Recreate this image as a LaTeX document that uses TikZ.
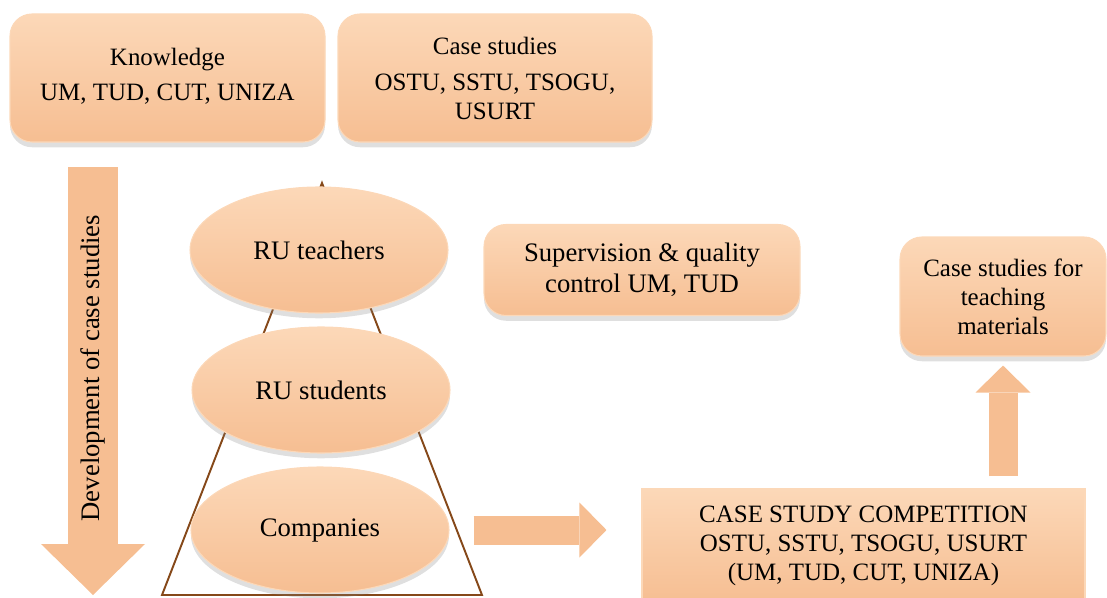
\documentclass[tikz,border=0pt]{standalone}
\usepackage{fontspec}
\setmainfont{Liberation Serif}
\usepackage{tikz}
\usepackage{xcolor}
\usetikzlibrary{shapes.geometric, shadows, arrows.meta}

\definecolor{peach}{RGB}{246,190,146}
\definecolor{peachlight}{RGB}{252,216,184}
\definecolor{pyramid}{RGB}{133,72,25}

\begin{document}
\begin{tikzpicture}[
        font=\fontsize{14.2}{16.5}\selectfont,
        bigtext/.style={font=\fontsize{15.2}{17.5}\selectfont},
        peachbox/.style={rounded corners=0.44cm, top color=peachlight, bottom color=peach,
            draw=peachlight, line width=0.6pt, align=center,
            drop shadow={opacity=0.25, shadow xshift=0pt, shadow yshift=-3pt}},
        flatbox/.style={peachbox, sharp corners},
        oval/.style={ellipse, minimum width=5.16cm, minimum height=2.52cm, bigtext,
            top color=peachlight, bottom color=peach, draw=peachlight, line width=0.6pt,
            drop shadow={opacity=0.25, shadow xshift=0pt, shadow yshift=-3pt}},
        blockarrow/.style={draw=peach, line width=0.58cm,
            -{Triangle[width=1.1cm, length=0.54cm, line width=0pt]}}
    ]
        \useasboundingbox (0, 0) rectangle (22.14, 11.94);

        % --- Top boxes ---
        \node[peachbox, minimum width=6.3cm, minimum height=2.56cm] (know) at (3.35, 10.38)
            {Knowledge\\[0.12cm] UM, TUD, CUT, UNIZA\\[-0.42cm]};
        \node[peachbox, minimum width=6.28cm, minimum height=2.56cm] (cases) at (9.9, 10.38)
            {Case studies\\[0.14cm] OSTU, SSTU, TSOGU,\\ USURT};

        % --- Right side boxes ---
        \node[peachbox, bigtext, minimum width=6.32cm, minimum height=1.82cm] (superv) at (12.84, 6.54)
            {Supervision \& quality\\ control UM, TUD};
        \node[peachbox, minimum width=4.12cm, minimum height=2.38cm] (teaching) at (20.06, 6.01)
            {Case studies for\\ teaching\\ materials};
        \node[flatbox, minimum width=8.86cm, minimum height=2.28cm] (compet) at (17.27, 1.02)
            {CASE STUDY COMPETITION\\ OSTU, SSTU, TSOGU, USURT\\ (UM, TUD, CUT, UNIZA)};

        % --- Development arrow (points down) ---
        \coordinate (devtip) at (1.86, 0.04);
        \coordinate (devtop) at (1.86, 8.6);
        \draw[draw=peach, line width=1cm,
            {Triangle[width=2.08cm, length=1.02cm, line width=0pt]}-] (devtip) -- (devtop)
            node[pos=0.53, rotate=90, bigtext] (devtext) {Development of case studies};

        % --- Pyramid ---
        \coordinate (apex) at (6.44, 8.28);
        \coordinate (baseL) at (3.24, 0.04);
        \coordinate (baseR) at (9.64, 0.04);
        \draw[pyramid, line width=1.1pt] (apex) -- (baseL) -- (baseR) -- cycle;

        % --- Levels ---
        \node[oval] (teachers) at (6.38, 6.94) {RU teachers};
        \node[oval] (students) at (6.42, 4.14) {RU students};
        \node[oval] (companies) at (6.40, 1.34) {Companies};

        % --- Flow arrows ---
        \draw[blockarrow, shorten <=0.48cm, shorten >=0.7cm]
            (companies.east) -- (companies.east -| compet.west);
        \draw[blockarrow, shorten <=0.24cm, shorten >=0.18cm]
            (teaching.south |- compet.north) -- (teaching.south);

    \end{tikzpicture}
\end{document}
